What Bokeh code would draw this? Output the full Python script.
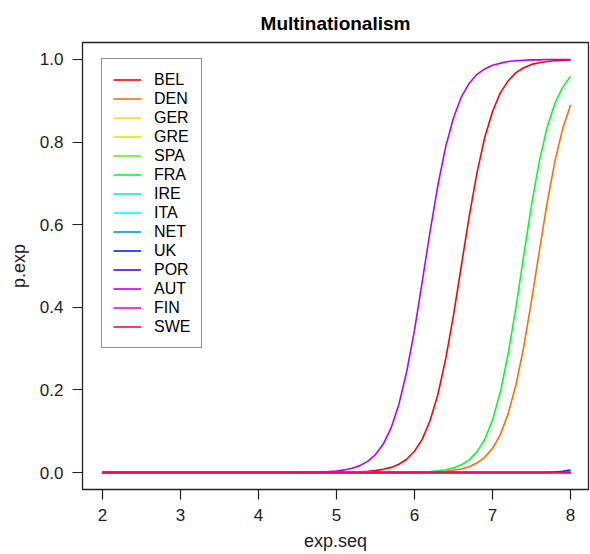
from bokeh.plotting import figure
from bokeh.models import Legend, LegendItem, Range1d, FixedTicker, NumeralTickFormatter
from bokeh.embed import file_html
from bokeh.resources import INLINE

# ---- data ----
exp_seq = [2.0, 2.1, 2.2, 2.3, 2.4, 2.5, 2.6, 2.7, 2.8, 2.9,
           3.0, 3.1, 3.2, 3.3, 3.4, 3.5, 3.6, 3.7, 3.8, 3.9,
           4.0, 4.1, 4.2, 4.3, 4.4, 4.5, 4.6, 4.7, 4.8, 4.9,
           5.0, 5.1, 5.2, 5.3, 5.4, 5.5, 5.6, 5.7, 5.8, 5.9,
           6.0, 6.1, 6.2, 6.3, 6.4, 6.5, 6.6, 6.7, 6.8, 6.9,
           7.0, 7.1, 7.2, 7.3, 7.4, 7.5, 7.6, 7.7, 7.8, 7.9,
           8.0]

countries = ["BEL", "DEN", "GER", "GRE", "SPA", "FRA", "IRE",
             "ITA", "NET", "UK", "POR", "AUT", "FIN", "SWE"]

colors = ["#FF0000", "#FF6D00", "#FFDB00", "#B6FF00", "#49FF00", "#00FF24", "#00FF92",
          "#00FFFF", "#0092FF", "#0024FF", "#4900FF", "#B600FF", "#FF00DB", "#FF006D"]

BEL = [0, 0, 0, 0, 0, 0, 0, 0, 0, 0,
       0, 0, 0, 0, 0, 0, 0, 0, 0, 0,
       0, 0, 0, 0, 0, 0, 0, 0, 0, 0,
       0.0004, 0.0007, 0.0011, 0.0018, 0.0030, 0.0048, 0.0078, 0.0125, 0.0202, 0.0323,
       0.0517, 0.081, 0.126, 0.189, 0.275, 0.381, 0.500, 0.619, 0.725, 0.811,
       0.874, 0.919, 0.948, 0.968, 0.980, 0.988, 0.992, 0.995, 0.997, 0.998,
       0.999]
DEN = [0, 0, 0, 0, 0, 0, 0, 0, 0, 0,
       0, 0, 0, 0, 0, 0, 0, 0, 0, 0,
       0, 0, 0, 0, 0, 0, 0, 0, 0, 0,
       0, 0, 0, 0, 0, 0, 0, 0, 0, 0.0003,
       0.0005, 0.0008, 0.0013, 0.0021, 0.0033, 0.0054, 0.0088, 0.0142, 0.0230, 0.0370,
       0.0585, 0.092, 0.142, 0.212, 0.304, 0.416, 0.536, 0.653, 0.754, 0.833,
       0.890]
GER = [0, 0, 0, 0, 0, 0, 0, 0, 0, 0,
       0, 0, 0, 0, 0, 0, 0, 0, 0, 0,
       0, 0, 0, 0, 0, 0, 0, 0, 0, 0,
       0, 0, 0, 0, 0, 0, 0, 0, 0, 0,
       0, 0, 0, 0, 0, 0, 0, 0, 0, 0,
       0, 0, 0, 0, 0, 0, 0, 0, 0, 0,
       0]
GRE = [0, 0, 0, 0, 0, 0, 0, 0, 0, 0,
       0, 0, 0, 0, 0, 0, 0, 0, 0, 0,
       0, 0, 0, 0, 0, 0, 0, 0, 0, 0,
       0, 0, 0, 0, 0, 0, 0, 0, 0, 0,
       0, 0, 0, 0, 0, 0, 0, 0, 0, 0,
       0, 0, 0, 0, 0, 0, 0, 0, 0, 0,
       0]
SPA = [0, 0, 0, 0, 0, 0, 0, 0, 0, 0,
       0, 0, 0, 0, 0, 0, 0, 0, 0, 0,
       0, 0, 0, 0, 0, 0, 0, 0, 0, 0,
       0, 0, 0, 0, 0, 0, 0, 0, 0, 0,
       0, 0, 0, 0, 0, 0, 0, 0, 0, 0,
       0, 0, 0, 0, 0, 0, 0, 0, 0, 0,
       0]
FRA = [0, 0, 0, 0, 0, 0, 0, 0, 0, 0,
       0, 0, 0, 0, 0, 0, 0, 0, 0, 0,
       0, 0, 0, 0, 0, 0, 0, 0, 0, 0,
       0, 0, 0, 0, 0, 0, 0, 0, 0.0003, 0.0005,
       0.0009, 0.0015, 0.0025, 0.0041, 0.0068, 0.0113, 0.0187, 0.0307, 0.050, 0.080,
       0.127, 0.195, 0.287, 0.399, 0.525, 0.648, 0.754, 0.836, 0.894, 0.933,
       0.959]
IRE = [0, 0, 0, 0, 0, 0, 0, 0, 0, 0,
       0, 0, 0, 0, 0, 0, 0, 0, 0, 0,
       0, 0, 0, 0, 0, 0, 0, 0, 0, 0,
       0, 0, 0, 0, 0, 0, 0, 0, 0, 0,
       0, 0, 0, 0, 0, 0, 0, 0, 0, 0,
       0, 0, 0, 0, 0, 0, 0, 0, 0, 0,
       0]
ITA = [0, 0, 0, 0, 0, 0, 0, 0, 0, 0,
       0, 0, 0, 0, 0, 0, 0, 0, 0, 0,
       0, 0, 0, 0, 0, 0, 0, 0, 0, 0,
       0, 0, 0, 0, 0, 0, 0, 0, 0, 0,
       0, 0, 0, 0, 0, 0, 0, 0, 0, 0,
       0, 0, 0, 0, 0, 0, 0, 0, 0, 0,
       0]
NET = [0, 0, 0, 0, 0, 0, 0, 0, 0, 0,
       0, 0, 0, 0, 0, 0, 0, 0, 0, 0,
       0, 0, 0, 0, 0, 0, 0, 0, 0, 0,
       0, 0, 0, 0, 0, 0, 0, 0, 0, 0,
       0, 0, 0, 0, 0, 0, 0, 0, 0, 0,
       0, 0, 0, 0, 0, 0, 0, 0, 0, 0,
       0]
UK = [0, 0, 0, 0, 0, 0, 0, 0, 0, 0,
      0, 0, 0, 0, 0, 0, 0, 0, 0, 0,
      0, 0, 0, 0, 0, 0, 0, 0, 0, 0,
      0, 0, 0, 0, 0, 0, 0, 0, 0, 0,
      0, 0, 0, 0, 0, 0, 0, 0, 0, 0,
      0, 0, 0, 0, 0, 0, 0, 0.0005, 0.0015, 0.003,
      0.006]
POR = [0, 0, 0, 0, 0, 0, 0, 0, 0, 0,
       0, 0, 0, 0, 0, 0, 0, 0, 0, 0,
       0, 0, 0, 0, 0, 0, 0, 0, 0, 0,
       0, 0, 0, 0, 0, 0, 0, 0, 0, 0,
       0, 0, 0, 0, 0, 0, 0, 0, 0, 0,
       0, 0, 0, 0, 0, 0, 0, 0, 0, 0,
       0]
AUT = [0, 0, 0, 0, 0, 0, 0, 0, 0, 0,
       0, 0, 0, 0, 0, 0, 0, 0, 0, 0,
       0, 0, 0, 0, 0, 0, 0.0006, 0.0009, 0.0015, 0.0024,
       0.0039, 0.0064, 0.0103, 0.0168, 0.0271, 0.0435, 0.069, 0.108, 0.165, 0.244,
       0.345, 0.463, 0.584, 0.696, 0.789, 0.859, 0.909, 0.942, 0.964, 0.977,
       0.986, 0.991, 0.995, 0.997, 0.998, 0.999, 0.999, 1.0, 1.0, 1.0,
       1.0]
FIN = [0, 0, 0, 0, 0, 0, 0, 0, 0, 0,
       0, 0, 0, 0, 0, 0, 0, 0, 0, 0,
       0, 0, 0, 0, 0, 0, 0, 0, 0, 0,
       0, 0, 0, 0, 0, 0, 0, 0, 0, 0,
       0, 0, 0, 0, 0, 0, 0, 0, 0, 0,
       0, 0, 0, 0, 0, 0, 0, 0, 0, 0,
       0]
SWE = [0, 0, 0, 0, 0, 0, 0, 0, 0, 0,
       0, 0, 0, 0, 0, 0, 0, 0, 0, 0,
       0, 0, 0, 0, 0, 0, 0, 0, 0, 0,
       0, 0, 0, 0, 0, 0, 0, 0, 0, 0,
       0, 0, 0, 0, 0, 0, 0, 0, 0, 0,
       0, 0, 0, 0, 0, 0, 0, 0, 0, 0,
       0]

series = [BEL, DEN, GER, GRE, SPA, FRA, IRE, ITA, NET, UK, POR, AUT, FIN, SWE]

x_ticks = [2, 3, 4, 5, 6, 7, 8]
y_ticks = [0.0, 0.2, 0.4, 0.6, 0.8, 1.0]

FONT = "Liberation Sans"

p = figure(width=590, height=554, output_backend="svg", toolbar_location=None,
           x_range=Range1d(1.745, 8.23), y_range=Range1d(-0.041, 1.041),
           min_border_left=82, min_border_right=2, min_border_top=42, min_border_bottom=65)

p.background_fill_color = "white"
p.border_fill_color = "white"
p.outline_line_color = "#222222"
p.outline_line_width = 1.3
p.grid.visible = False

p.title.text = "Multinationalism"
p.title.align = "center"
p.title.text_font = FONT
p.title.text_font_size = "19px"
p.title.text_font_style = "bold"
p.title.text_color = "black"
p.title.standoff = 17

for ax in (p.xaxis[0], p.yaxis[0]):
    ax.axis_line_color = None
    ax.major_tick_out = 10
    ax.major_tick_in = 0
    ax.major_tick_line_color = "#222222"
    ax.major_tick_line_width = 1.2
    ax.minor_tick_line_color = None
    ax.major_label_text_font = FONT
    ax.major_label_text_font_size = "17px"
    ax.major_label_text_color = "#222222"
    ax.axis_label_text_font = FONT
    ax.axis_label_text_font_size = "18px"
    ax.axis_label_text_font_style = "normal"
    ax.axis_label_text_color = "#222222"

p.xaxis.ticker = FixedTicker(ticks=x_ticks)
p.yaxis.ticker = FixedTicker(ticks=y_ticks)
p.yaxis.formatter = NumeralTickFormatter(format="0.0")
p.yaxis.major_label_orientation = "horizontal"
p.xaxis.axis_label = "exp.seq"
p.yaxis.axis_label = "p.exp"
p.xaxis.major_label_standoff = 9
p.yaxis.major_label_standoff = 9
p.xaxis.axis_label_standoff = 7
p.yaxis.axis_label_standoff = 8

items = []
for name, col, ys in zip(countries, colors, series):
    r = p.line(exp_seq, ys, line_color=col, line_width=1.6)
    items.append(LegendItem(label=name, renderers=[r]))

legend = Legend(items=items, location=(19, 141),
                glyph_width=28, glyph_height=19, label_height=19,
                label_standoff=13, padding=11, spacing=0, margin=0,
                label_text_font=FONT, label_text_font_size="16px",
                label_text_line_height=1.0,
                label_text_color="black",
                border_line_color="#222222", border_line_width=1.2,
                background_fill_color="white", background_fill_alpha=1.0)
p.add_layout(legend)

open("out.html", "w").write(file_html(p, INLINE))
